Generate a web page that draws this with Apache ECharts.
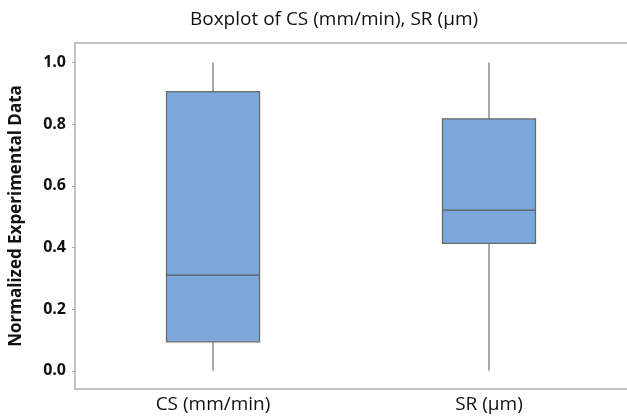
<!DOCTYPE html>
<html>
<head>
<meta charset="utf-8">
<script src="https://cdn.jsdelivr.net/npm/echarts@6/dist/echarts.min.js"></script>
<style>
  html, body { margin: 0; padding: 0; background: #fff; }
  #chart { width: 627px; height: 418px; }
</style>
</head>
<body>
<div id="chart"></div>
<script>
// categories and five-number summaries [min, Q1, median, Q3, max]
var categories = ['CS (mm/min)', 'SR (µm)'];
var csBox = [0, 0.094, 0.31, 0.905, 1.0];
var srBox = [0, 0.413, 0.521, 0.817, 1.0];
var yTicks = [0, 0.2, 0.4, 0.6, 0.8, 1.0];

var boxData = [csBox, srBox].map(function (b, i) { return [i].concat(b); });

var chart = echarts.init(document.getElementById('chart'));
var font = '"Open Sans", "Noto Sans", sans-serif';
var frame = '#c4c4c4';

function renderBox(params, api) {
  var idx = api.value(0);
  var lo = api.coord([idx, api.value(1)]);
  var q1 = api.coord([idx, api.value(2)]);
  var md = api.coord([idx, api.value(3)]);
  var q3 = api.coord([idx, api.value(4)]);
  var hi = api.coord([idx, api.value(5)]);
  var half = 46.5;
  var x = q1[0];
  var whisker = { stroke: '#8c8c8c', lineWidth: 1.5 };
  return {
    type: 'group',
    children: [
      { type: 'line', shape: { x1: x, y1: hi[1], x2: x, y2: q3[1] }, style: whisker },
      { type: 'line', shape: { x1: x, y1: q1[1], x2: x, y2: lo[1] }, style: whisker },
      { type: 'rect', shape: { x: x - half, y: q3[1], width: half * 2, height: q1[1] - q3[1] },
        style: { fill: '#7ba7da', stroke: '#6a6a6a', lineWidth: 1.3 } },
      { type: 'line', shape: { x1: x - half, y1: md[1], x2: x + half, y2: md[1] },
        style: { stroke: '#5e5e5e', lineWidth: 1.3 } }
    ]
  };
}

chart.setOption({
  backgroundColor: '#fff',
  animation: false,
  title: {
    text: 'Boxplot of CS (mm/min), SR (µm)',
    left: 329,
    textAlign: 'center',
    top: 5,
    textStyle: { fontFamily: font, fontSize: 19, fontWeight: 'normal', color: '#111' }
  },
  grid: { left: 72, top: 43, right: 0, bottom: 29, show: false, containLabel: false },
  xAxis: [{
    type: 'category',
    data: categories,
    axisLine: { onZero: false, lineStyle: { color: frame, width: 2 } },
    axisTick: { alignWithLabel: true, length: 3, lineStyle: { color: '#aaa' } },
    axisLabel: { fontFamily: font, fontSize: 19, color: '#111', margin: 6 },
    splitLine: { show: false }
  }, {
    type: 'category',
    data: categories,
    position: 'top',
    axisLine: { onZero: false, lineStyle: { color: frame, width: 2 } },
    axisTick: { show: false },
    axisLabel: { show: false },
    splitLine: { show: false }
  }],
  yAxis: {
    type: 'value',
    min: -0.059,
    max: 1.063,
    name: 'Normalized Experimental Data',
    nameLocation: 'middle',
    nameGap: 50,
    nameTextStyle: { fontFamily: font, fontSize: 17, fontWeight: 'bold', color: '#111' },
    axisLine: { show: true, lineStyle: { color: frame, width: 2 } },
    axisTick: { show: true, length: 3, lineStyle: { color: '#aaa' }, customValues: yTicks },
    axisLabel: {
      fontFamily: font, fontSize: 16, fontWeight: 'bold', color: '#111', margin: 9,
      customValues: yTicks,
      formatter: function (v) { return v.toFixed(1); }
    },
    splitLine: { show: false }
  },
  series: [{
    type: 'custom',
    renderItem: renderBox,
    data: boxData,
    encode: { x: 0, y: [1, 2, 3, 4, 5] },
    silent: true
  }]
});
</script>
</body>
</html>
